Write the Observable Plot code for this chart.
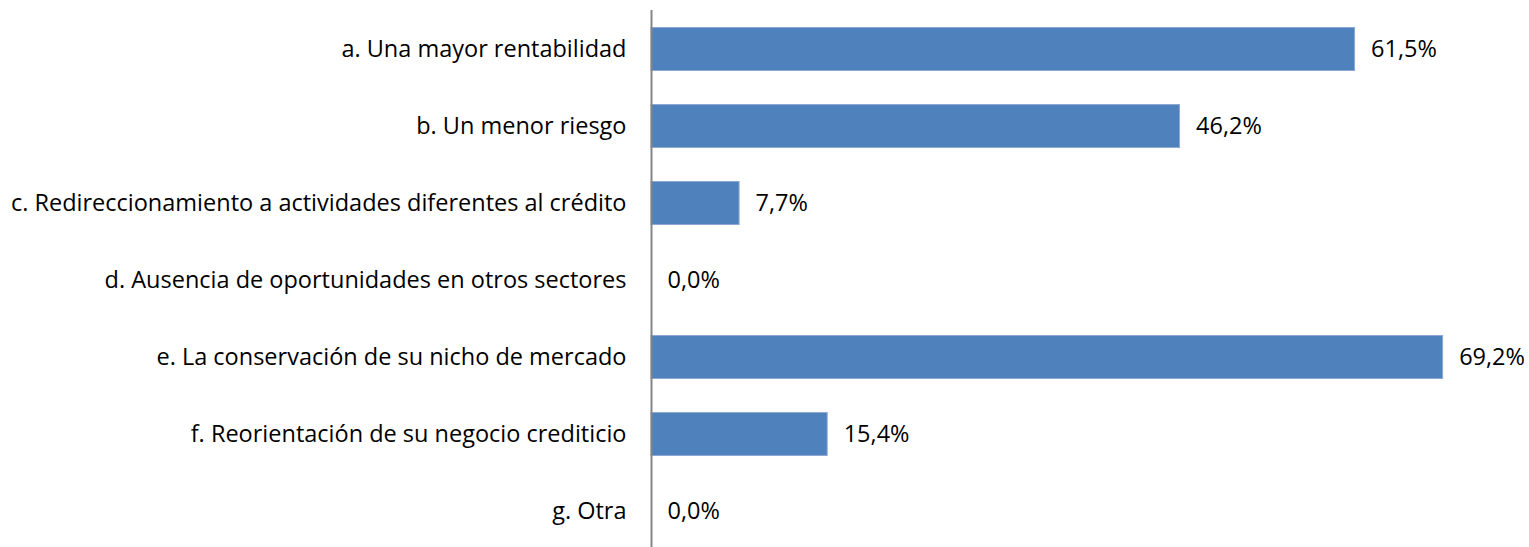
<!DOCTYPE html>
<html>
<head>
<meta charset="utf-8">
<script src="https://cdn.jsdelivr.net/npm/d3@7"></script>
<script src="https://cdn.jsdelivr.net/npm/@observablehq/plot@0.6"></script>
<style>
  html, body { margin: 0; padding: 0; background: #fff; overflow: hidden; }
  #chart svg { display: block; }
</style>
</head>
<body>
<div id="chart"></div>
<script>
const categories = [
  "a. Una mayor rentabilidad",
  "b. Un menor riesgo",
  "c. Redireccionamiento a actividades diferentes al crédito",
  "d. Ausencia de oportunidades en otros sectores",
  "e. La conservación de su nicho de mercado",
  "f. Reorientación de su negocio crediticio",
  "g. Otra"
];
const values = [61.5, 46.2, 7.7, 0.0, 69.2, 15.4, 0.0];

const data = categories.map((c, i) => ({category: c, value: values[i]}));
const fmt = v => v.toFixed(1).replace(".", ",") + "%";

const chart = Plot.plot({
  width: 1529,
  height: 551,
  marginLeft: 651,
  marginRight: 20,
  marginTop: 10,
  marginBottom: 0,
  style: {fontFamily: "'Open Sans', sans-serif", fontSize: "23.5px", color: "#000", background: "#fff"},
  x: {domain: [0, 75], axis: null},
  y: {domain: categories, paddingInner: 0.427, paddingOuter: 0.2135, label: null, tickSize: 0, tickPadding: 25},
  marks: [
    Plot.barX(data, {x: "value", y: "category", fill: "#4F81BD", stroke: "#8DA9D3", strokeWidth: 1, insetTop: 0.5, insetBottom: 0.5}),
    Plot.text(data, {x: "value", y: "category", text: d => fmt(d.value), textAnchor: "start", dx: 16, fill: "#000", fontSize: 23.5}),
    Plot.ruleX([0], {stroke: "#868686", strokeWidth: 2})
  ]
});
document.getElementById("chart").appendChild(chart);
</script>
</body>
</html>
